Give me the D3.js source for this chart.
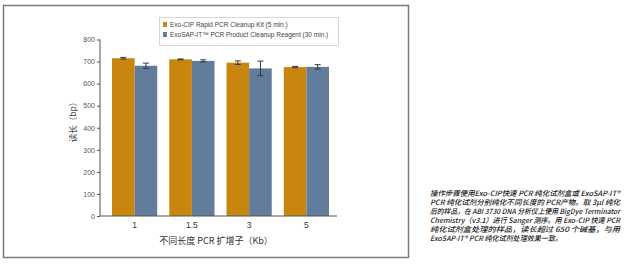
<!DOCTYPE html>
<html><head><meta charset="utf-8">
<script src="https://cdn.jsdelivr.net/npm/d3@7"></script>
<style>
html,body{margin:0;padding:0;background:#fff;}
svg{display:block;}
</style></head>
<body>
<svg id="chart" width="633" height="264"></svg>
<script>
const categories = ["1", "1.5", "3", "5"];
const seriesNames = ["Exo-CIP Rapid PCR Cleanup Kit (5 min.)", "ExoSAP-IT\u2122 PCR Product Cleanup Reagent (30 min.)"];
const exoCIP = [715, 710, 695, 675];
const exoCIPErr = [4, 2, 8, 3];
const exoSAP = [681, 703, 669, 676];
const exoSAPErr = [12, 5, 33, 10];
const yTicks = [0, 100, 200, 300, 400, 500, 600, 700, 800];
const colors = ["#C8860E", "#627C9C"];
const yLabel = "读长（bp）";
const xLabel = "不同长度 PCR 扩增子（Kb）";
const noteLines = [
  "操作步骤使用Exo-CIP快速 PCR 纯化试剂盒或 ExoSAP-IT®",
  "PCR 纯化试剂分别纯化不同长度的 PCR产物。取 3μl 纯化",
  "后的样品，在 ABI 3730 DNA 分析仪上使用 BigDye Terminator",
  "Chemistry（v3.1）进行 Sanger 测序。用 Exo-CIP 快速 PCR",
  "纯化试剂盒处理的样品，读长超过 650 个碱基，与用",
  "ExoSAP-IT® PCR 纯化试剂处理效果一致。"
];

const svg = d3.select("#chart");
const font = "'Liberation Sans', Arial, sans-serif";

// outer frame
svg.append("rect").attr("x", 3.5).attr("y", 5.5).attr("width", 405).attr("height", 252)
  .attr("fill", "#fff").attr("stroke", "#7a7a7a").attr("stroke-width", 1.5);

const y = d3.scaleLinear().domain([0, 800]).range([216, 39.5]);
const x0 = d3.scaleBand().domain(categories).range([106, 335]).paddingInner(0.21).paddingOuter(0.105);
const x1 = d3.scaleBand().domain([0, 1]).range([0, x0.bandwidth()]);

const data = categories.map((c, i) => ({
  cat: c,
  vals: [
    {s: 0, v: exoCIP[i], e: exoCIPErr[i]},
    {s: 1, v: exoSAP[i], e: exoSAPErr[i]}
  ]
}));

const g = svg.append("g");
const groups = g.selectAll("g.grp").data(data).join("g")
  .attr("transform", d => `translate(${x0(d.cat)},0)`);
groups.selectAll("rect").data(d => d.vals).join("rect")
  .attr("x", d => x1(d.s)).attr("width", x1.bandwidth())
  .attr("y", d => y(d.v)).attr("height", d => y(0) - y(d.v))
  .attr("fill", d => colors[d.s]);
// error bars
const eb = groups.selectAll("g.eb").data(d => d.vals).join("g").attr("class", "eb")
  .attr("stroke", "#333a44").attr("stroke-width", 1);
eb.append("line")
  .attr("x1", d => x1(d.s) + x1.bandwidth() / 2).attr("x2", d => x1(d.s) + x1.bandwidth() / 2)
  .attr("y1", d => y(d.v + d.e)).attr("y2", d => y(d.v - d.e));
eb.append("line")
  .attr("x1", d => x1(d.s) + x1.bandwidth() / 2 - 3).attr("x2", d => x1(d.s) + x1.bandwidth() / 2 + 3)
  .attr("y1", d => y(d.v + d.e)).attr("y2", d => y(d.v + d.e));
eb.append("line")
  .attr("x1", d => x1(d.s) + x1.bandwidth() / 2 - 3).attr("x2", d => x1(d.s) + x1.bandwidth() / 2 + 3)
  .attr("y1", d => y(d.v - d.e)).attr("y2", d => y(d.v - d.e));

// y axis
const yAxis = svg.append("g").attr("transform", "translate(100,0)")
  .call(d3.axisLeft(y).tickValues(yTicks).tickSize(3).tickPadding(2));
yAxis.select(".domain").attr("stroke", "#555").attr("d", `M0,${y(0)}V${y(800)}`);
yAxis.selectAll(".tick line").attr("stroke", "#555");
yAxis.selectAll("text").attr("font-family", font).attr("font-size", 7).attr("fill", "#555");

// x axis
const xAxis = svg.append("g").attr("transform", `translate(0,${y(0)})`)
  .call(d3.axisBottom(x0).tickSize(0).tickPadding(6));
xAxis.select(".domain").attr("stroke", "#555").attr("d", "M100,0H337");
xAxis.selectAll("text").attr("font-family", font).attr("font-size", 8.5).attr("fill", "#333");

// axis titles
svg.append("text").attr("x", 216).attr("y", 244).attr("text-anchor", "middle")
  .attr("font-family", "'Noto Sans CJK SC', sans-serif").attr("font-size", 9).attr("fill", "#333")
  .text(xLabel);
svg.append("text").attr("transform", "translate(76,120) rotate(-90)").attr("text-anchor", "middle")
  .attr("font-family", "'Noto Sans CJK SC', sans-serif").attr("font-size", 8.5).attr("fill", "#444")
  .text(yLabel);

// legend
const lg = svg.append("g");
lg.append("rect").attr("x", 159.5).attr("y", 17.5).attr("width", 179).attr("height", 28)
  .attr("fill", "#fff").attr("stroke", "#ccc").attr("stroke-width", 0.8);
seriesNames.forEach((n, i) => {
  lg.append("rect").attr("x", 163).attr("y", 22 + i * 10).attr("width", 4).attr("height", 5).attr("fill", colors[i]);
  lg.append("text").attr("x", 170).attr("y", 27 + i * 10)
    .attr("font-family", font).attr("font-size", 6.5).attr("fill", "#444").text(n);
});

// note text
const note = svg.append("g");
noteLines.forEach((t, i) => {
  const tx = note.append("text").attr("x", 430).attr("y", 196 + i * 8.9)
    .attr("font-family", "'Noto Sans CJK SC', sans-serif").attr("font-size", 7.3)
    .attr("font-style", "italic").attr("font-weight", 500).attr("fill", "#222").text(t);
  if (i < 5) tx.attr("textLength", 190).attr("lengthAdjust", "spacingAndGlyphs");
  else tx.attr("textLength", 132).attr("lengthAdjust", "spacingAndGlyphs");
});
</script>
</body></html>
